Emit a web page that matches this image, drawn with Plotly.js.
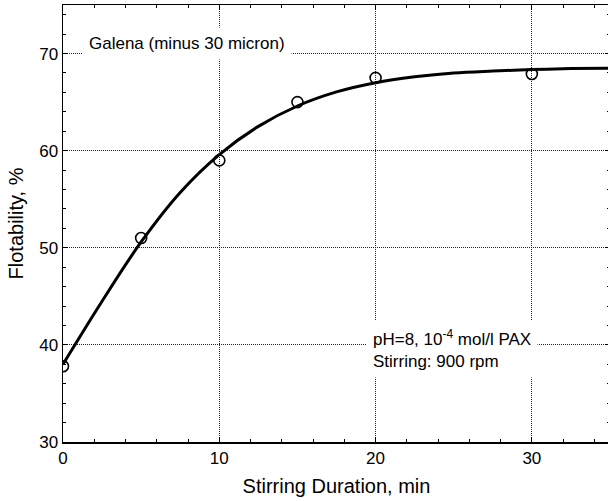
<!DOCTYPE html>
<html>
<head>
<meta charset="utf-8">
<script src="https://cdn.plot.ly/plotly-3.0.1.min.js"></script>
<style>
html, body { margin: 0; padding: 0; overflow: hidden; background: #fff; }
#chart { width: 612px; height: 501px; }
</style>
</head>
<body>
<div id="chart"></div>
<script>
// Measured data points
const pointTime = [0, 5, 10, 15, 20, 30];
const pointFlot = [37.8, 51.0, 59.0, 65.0, 67.5, 67.9];

// Fitted curve
const curveTime = [0, 2.5, 5, 7.5, 10, 12.5, 15, 17.5, 20, 22.5, 25, 27.5, 30, 32.5, 35];
const curveFlot = [38.0, 44.5, 50.6, 55.7, 59.6, 62.5, 64.6, 66.05, 67.0, 67.6, 68.0, 68.2, 68.35, 68.45, 68.5];

const xTickVals = [0, 10, 20, 30];
const yTickVals = [30, 40, 50, 60, 70];

const fontFam = 'Liberation Sans, Arial, Helvetica, sans-serif';

const traces = [
  {
    x: curveTime, y: curveFlot,
    mode: 'lines', type: 'scatter',
    line: { color: '#000', width: 3, shape: 'spline', smoothing: 1 },
    hoverinfo: 'skip', showlegend: false
  },
  {
    x: pointTime, y: pointFlot,
    mode: 'markers', type: 'scatter',
    marker: { symbol: 'circle-open', size: 11, color: '#000', line: { color: '#000', width: 1.6 } },
    cliponaxis: true, showlegend: false
  }
];

const axisCommon = {
  showline: true, linecolor: '#000', linewidth: 1.5,
  mirror: 'ticks',
  ticks: 'inside', ticklen: 5, tickwidth: 1, tickcolor: '#000',
  showgrid: true, gridcolor: '#222', gridwidth: 1, griddash: '1px,1px',
  zeroline: false,
  tickfont: { family: fontFam, size: 17, color: '#000' }
};

const layout = {
  width: 612, height: 501,
  margin: { l: 63, r: 2, t: 5, b: 59 },
  paper_bgcolor: '#fff', plot_bgcolor: '#fff',
  font: { family: fontFam, color: '#000' },
  xaxis: Object.assign({}, axisCommon, {
    range: [0, 35],
    tickmode: 'array', tickvals: xTickVals, ticktext: xTickVals.map(String),
    minor: { dtick: 2, tick0: 0, ticks: 'inside', ticklen: 3, tickcolor: '#000', showgrid: false },
    title: { text: 'Stirring Duration, min', font: { family: fontFam, size: 20, color: '#000' }, standoff: 12 }
  }),
  yaxis: Object.assign({}, axisCommon, {
    range: [30, 75],
    tickmode: 'array', tickvals: yTickVals, ticktext: yTickVals.map(String),
    minor: { dtick: 2, tick0: 30, ticks: 'inside', ticklen: 3, tickcolor: '#000', showgrid: false },
    title: { text: 'Flotability, %', font: { family: fontFam, size: 20, color: '#000' }, standoff: 10 }
  }),
  annotations: [
    {
      xref: 'x', yref: 'y', x: 1.2, y: 71.05,
      xanchor: 'left', yanchor: 'middle', showarrow: false,
      text: 'Galena (minus 30 micron)',
      font: { family: fontFam, size: 17, color: '#000' },
      bgcolor: '#fff', borderpad: 6
    },
    {
      xref: 'x', yref: 'y', x: 19.4, y: 39.57,
      xanchor: 'left', yanchor: 'middle', showarrow: false, align: 'left',
      text: 'pH=8, 10<sup>-4</sup> mol/l PAX<br>Stirring: 900 rpm',
      font: { family: fontFam, size: 17, color: '#000' },
      bgcolor: '#fff', borderpad: 6
    }
  ]
};

Plotly.newPlot('chart', traces, layout, { displayModeBar: false, staticPlot: true });
</script>
</body>
</html>
